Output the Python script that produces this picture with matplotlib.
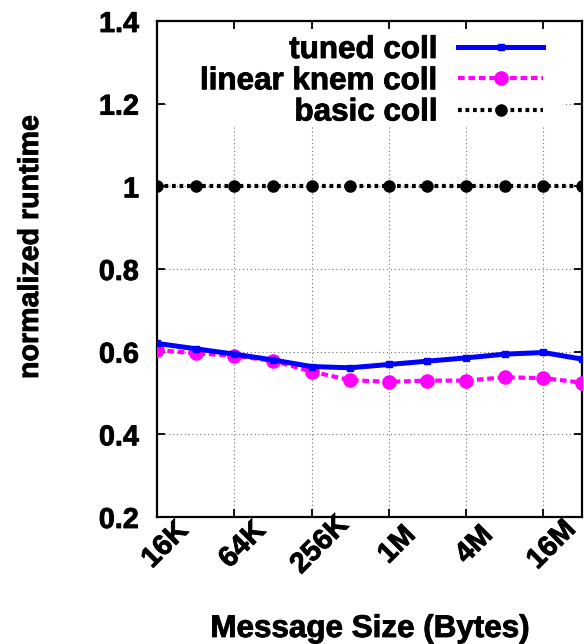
import matplotlib
matplotlib.use('Agg')
import matplotlib.pyplot as plt
import matplotlib.patheffects as pe
from matplotlib.patches import Rectangle
from matplotlib.ticker import FixedLocator, FixedFormatter, NullLocator
from matplotlib.transforms import ScaledTranslation

plt.rcParams['font.family'] = ['Liberation Sans', 'DejaVu Sans']
plt.rcParams['font.weight'] = 'bold'

# message sizes in bytes (16K .. 32M)
msg_sizes = [16384, 32768, 65536, 131072, 262144, 524288,
             1048576, 2097152, 4194304, 8388608, 16777216, 33554432]
tuned_coll = [0.620, 0.607, 0.594, 0.580, 0.564, 0.561,
              0.569, 0.577, 0.585, 0.594, 0.598, 0.582]
linear_knem_coll = [0.604, 0.596, 0.590, 0.578, 0.552, 0.531,
                    0.527, 0.530, 0.530, 0.538, 0.536, 0.525]
basic_coll = [1.0, 1.0, 1.0, 1.0, 1.0, 1.0,
              1.0, 1.0, 1.0, 1.0, 1.0, 1.0]

xtick_vals = [16384, 65536, 262144, 1048576, 4194304, 16777216]
xtick_labels = ['16K', '64K', '256K', '1M', '4M', '16M']
ytick_vals = [0.2, 0.4, 0.6, 0.8, 1.0, 1.2, 1.4]
ytick_labels = ['0.2', '0.4', '0.6', '0.8', '1', '1.2', '1.4']

heavy = [pe.withStroke(linewidth=0.6, foreground='black')]

fig = plt.figure(figsize=(5.84, 6.44), dpi=100)
ax = fig.add_axes([157/584, 1 - 517/644, 425/584, 496/644])

ax.plot(msg_sizes, tuned_coll, color='#0000ff', lw=3.6, marker='s', ms=5,
        label='tuned coll', zorder=4)
ax.plot(msg_sizes, linear_knem_coll, color='#ff00ff', lw=3.0,
        linestyle=(0, (1.6, 0.9)), marker='o', ms=9.5,
        label='linear knem coll', zorder=3)
ax.plot(msg_sizes, basic_coll, color='black', lw=3.0,
        linestyle=(0, (0.9, 0.9)), marker='o', ms=8,
        label='basic coll', zorder=3)

ax.set_xscale('log', base=2)
ax.set_xlim(msg_sizes[0], msg_sizes[-1])
ax.set_ylim(0.2, 1.4)
ax.xaxis.set_major_locator(FixedLocator(xtick_vals))
ax.xaxis.set_major_formatter(FixedFormatter(xtick_labels))
ax.xaxis.set_minor_locator(NullLocator())
ax.yaxis.set_major_locator(FixedLocator(ytick_vals))
ax.yaxis.set_major_formatter(FixedFormatter(ytick_labels))
ax.yaxis.set_minor_locator(NullLocator())

ax.grid(True, color='0.45', linestyle=(0, (1, 2.5)), lw=0.8)
ax.tick_params(direction='in', length=6, width=1.3, top=True, right=True,
               labelsize=20.7)
ax.tick_params(axis='y', pad=13)
ax.tick_params(axis='x', pad=20)
for lbl in ax.get_xticklabels():
    lbl.set_rotation(45)
    lbl.set_ha('center')
    lbl.set_va('center')
    lbl.set_rotation_mode('anchor')
    lbl.set_transform(lbl.get_transform() + ScaledTranslation(8/100, 0, fig.dpi_scale_trans))
    lbl.set_path_effects(heavy)
for lbl in ax.get_yticklabels():
    lbl.set_path_effects(heavy)
for s in ax.spines.values():
    s.set_linewidth(1.6)

# white box behind the key hides the grid there
ax.add_patch(Rectangle((10/425, 1 - 106/496), 396/425, 97/496,
                       transform=ax.transAxes, facecolor='white',
                       edgecolor='none', zorder=1.6))

leg = ax.legend(loc='upper right', bbox_to_anchor=(386/425, 1 - 14/496),
                bbox_transform=ax.transAxes, frameon=False, markerfirst=False,
                fontsize=22.6, handlelength=2.7, handletextpad=0.65,
                labelspacing=0.04, borderpad=0, borderaxespad=0, numpoints=1)
leg.set_zorder(5)
for t in leg.get_texts():
    t.set_path_effects(heavy)

fig.text(30/584, 1 - 247/644, 'normalized runtime', rotation=90,
         ha='center', va='center', fontsize=20.6, fontweight='bold',
         path_effects=heavy)
fig.text(370/584, 1 - 629/644, 'Message Size (Bytes)',
         ha='center', va='center', fontsize=22.6, fontweight='bold',
         path_effects=heavy)

fig.savefig('out.png', dpi=100)
